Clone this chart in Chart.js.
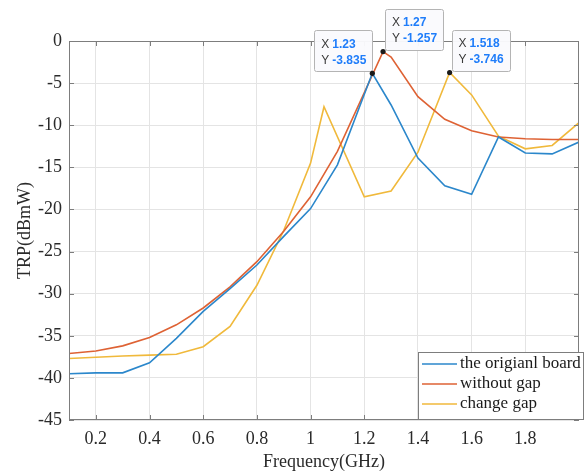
<!DOCTYPE html>
<html>
<head>
<meta charset="utf-8">
<script src="https://cdn.jsdelivr.net/npm/chart.js@4.4.0/dist/chart.umd.min.js"></script>
<style>
    body { margin: 0; background: #ffffff; }
    canvas { display: block; }
</style>
</head>
<body>
<canvas id="trpChart" width="584" height="476"></canvas>
<script>
//#####################################################################################//
//-- Data
var boardFreq = [0.1, 0.2, 0.3, 0.4, 0.5, 0.6, 0.7, 0.8, 0.9, 1.0, 1.1, 1.23, 1.3, 1.4, 1.5, 1.6, 1.7, 1.8, 1.9, 2.0];
var boardTrp = [-39.5, -39.4, -39.4, -38.2, -35.3, -32.1, -29.4, -26.6, -23.2, -19.9, -14.7, -3.835, -7.6, -13.9, -17.2, -18.2, -11.4, -13.3, -13.4, -12.0];

var noGapFreq = [0.1, 0.2, 0.3, 0.4, 0.5, 0.6, 0.7, 0.8, 0.9, 1.0, 1.1, 1.27, 1.3, 1.4, 1.5, 1.6, 1.7, 1.8, 1.9, 2.0];
var noGapTrp = [-37.1, -36.8, -36.2, -35.2, -33.7, -31.7, -29.2, -26.2, -22.6, -18.5, -13.1, -1.257, -1.9, -6.6, -9.3, -10.65, -11.4, -11.6, -11.7, -11.7];

var changeGapFreq = [0.1, 0.2, 0.3, 0.4, 0.5, 0.6, 0.7, 0.8, 0.9, 1.0, 1.05, 1.2, 1.3, 1.4, 1.518, 1.6, 1.7, 1.8, 1.9, 2.0];
var changeGapTrp = [-37.7, -37.55, -37.4, -37.3, -37.2, -36.3, -33.9, -29.0, -22.5, -14.5, -7.8, -18.5, -17.8, -13.2, -3.746, -6.4, -11.3, -12.8, -12.4, -9.7];

var seriesNames = ["the origianl board", "without gap", "change gap"];
var xTickValues = [0.2, 0.4, 0.6, 0.8, 1.0, 1.2, 1.4, 1.6, 1.8];
var yTickValues = [-45, -40, -35, -30, -25, -20, -15, -10, -5, 0];

//datatips: [series index, x, y, which side of the point the box sits]
var dataTips = [
    [0, 1.23, -3.835, "left"],
    [1, 1.27, -1.257, "right"],
    [2, 1.518, -3.746, "right"]
];

//#####################################################################################//
//-- Styling
var lineColours = ["#2b87cb", "#de6234", "#f0b93b"];
var axisColour = "#7d7d7d";
var serifFont = "'Liberation Serif', 'Times New Roman', serif";

var makePoints = function(xs, ys) {
    let pts = [];
    for (let i = 0; i < xs.length; i++) {
        pts.push({ x: xs[i], y: ys[i] });
    }
    return pts;
}

var makeDataset = function(idx, xs, ys) {
    return {
        label: seriesNames[idx],
        data: makePoints(xs, ys),
        borderColor: lineColours[idx],
        backgroundColor: lineColours[idx],
        borderWidth: 1.6,
        pointRadius: 0,
        tension: 0,
        fill: false
    };
}

//Box round the plot plus the little inward tick marks MATLAB draws on every side
var boxPlugin = {
    id: "boxPlugin",
    afterDatasetsDraw: function(chart) {
        let ctx = chart.ctx;
        let a = chart.chartArea;
        let xs = chart.scales.x;
        let ys = chart.scales.y;
        ctx.save();
        ctx.strokeStyle = axisColour;
        ctx.lineWidth = 1;
        ctx.strokeRect(a.left + 0.5, a.top + 0.5, a.right - a.left - 1, a.bottom - a.top - 1);
        ctx.beginPath();
        for (let i = 0; i < xTickValues.length; i++) {
            let px = Math.round(xs.getPixelForValue(xTickValues[i])) + 0.5;
            ctx.moveTo(px, a.bottom);
            ctx.lineTo(px, a.bottom - 5);
            ctx.moveTo(px, a.top);
            ctx.lineTo(px, a.top + 5);
        }
        for (let i = 0; i < yTickValues.length; i++) {
            let py = Math.round(ys.getPixelForValue(yTickValues[i])) + 0.5;
            ctx.moveTo(a.left, py);
            ctx.lineTo(a.left + 5, py);
            ctx.moveTo(a.right, py);
            ctx.lineTo(a.right - 5, py);
        }
        ctx.stroke();
        ctx.restore();
    },
    afterDraw: function(chart) {
        let ctx = chart.ctx;
        let xs = chart.scales.x;
        let ys = chart.scales.y;

        //datatips
        for (let i = 0; i < dataTips.length; i++) {
            let tip = dataTips[i];
            let px = xs.getPixelForValue(tip[1]);
            let py = ys.getPixelForValue(tip[2]);
            let w = 58;
            let h = 41;
            let left = tip[3] === "left" ? px - w : px + 2;
            let top = py - h - 2;
            ctx.save();
            ctx.fillStyle = "rgba(250,250,253,0.96)";
            ctx.strokeStyle = "#b4b4b4";
            ctx.lineWidth = 1;
            ctx.beginPath();
            ctx.roundRect(Math.round(left) + 0.5, Math.round(top) + 0.5, w, h, 2);
            ctx.fill();
            ctx.stroke();

            ctx.textBaseline = "middle";
            ctx.textAlign = "left";
            ctx.font = "12px 'Liberation Sans', Arial, sans-serif";
            ctx.fillStyle = "#3a3a3a";
            ctx.fillText("X", left + 7, top + 14);
            ctx.fillText("Y", left + 7, top + 30);
            ctx.font = "bold 12px 'Liberation Sans', Arial, sans-serif";
            ctx.fillStyle = "#1f7dfa";
            ctx.fillText(String(tip[1]), left + 18, top + 14);
            ctx.fillText(String(tip[2]), left + 18, top + 30);

            //marker on the point
            ctx.fillStyle = "#1a1a1a";
            ctx.beginPath();
            ctx.arc(px, py, 2.6, 0, Math.PI * 2);
            ctx.fill();
            ctx.restore();
        }

        //legend box in the lower right corner
        let lx = 418;
        let ly = 352;
        let lw = 165;
        let lh = 67;
        ctx.save();
        ctx.fillStyle = "#ffffff";
        ctx.strokeStyle = axisColour;
        ctx.lineWidth = 1;
        ctx.fillRect(lx, ly, lw, lh);
        ctx.strokeRect(lx + 0.5, ly + 0.5, lw, lh);
        ctx.font = "17px " + serifFont;
        ctx.textBaseline = "middle";
        ctx.textAlign = "left";
        for (let i = 0; i < seriesNames.length; i++) {
            let rowY = ly + 12 + i * 20;
            ctx.strokeStyle = lineColours[i];
            ctx.lineWidth = 1.6;
            ctx.beginPath();
            ctx.moveTo(lx + 4, rowY);
            ctx.lineTo(lx + 39, rowY);
            ctx.stroke();
            ctx.fillStyle = "#1a1a1a";
            ctx.fillText(seriesNames[i], lx + 42, rowY);
        }
        ctx.restore();
    }
};

var chart = new Chart(document.getElementById("trpChart"), {
    type: "line",
    data: {
        datasets: [
            makeDataset(0, boardFreq, boardTrp),
            makeDataset(1, noGapFreq, noGapTrp),
            makeDataset(2, changeGapFreq, changeGapTrp)
        ]
    },
    options: {
        responsive: false,
        animation: false,
        devicePixelRatio: 1,
        layout: { padding: { top: 41, right: 5, left: 0, bottom: 0 } },
        plugins: {
            legend: { display: false },
            tooltip: { enabled: false }
        },
        scales: {
            x: {
                type: "linear",
                min: 0.1,
                max: 2.0,
                afterBuildTicks: function(scale) {
                    scale.ticks = xTickValues.map(function(v) { return { value: v }; });
                },
                afterFit: function(scale) {
                    scale.height = 56;
                },
                grid: { color: "#e4e4e4", drawTicks: false },
                border: { display: false },
                ticks: {
                    padding: 8,
                    color: "#2a2a2a",
                    font: { family: serifFont, size: 18 },
                    maxRotation: 0,
                    autoSkip: false,
                    callback: function(v) { return String(Math.round(v * 10) / 10); }
                },
                title: {
                    display: true,
                    text: "Frequency(GHz)",
                    color: "#2a2a2a",
                    font: { family: serifFont, size: 18 },
                    padding: { top: 0, bottom: 3 }
                }
            },
            y: {
                min: -45,
                max: 0,
                afterBuildTicks: function(scale) {
                    scale.ticks = yTickValues.map(function(v) { return { value: v }; });
                },
                afterFit: function(scale) {
                    scale.width = 69;
                },
                grid: { color: "#e4e4e4", drawTicks: false },
                border: { display: false },
                ticks: {
                    padding: 7,
                    color: "#2a2a2a",
                    font: { family: serifFont, size: 18 },
                    autoSkip: false
                },
                title: {
                    display: true,
                    text: "TRP(dBmW)",
                    color: "#2a2a2a",
                    font: { family: serifFont, size: 18 },
                    padding: { top: 14, bottom: 0 }
                }
            }
        }
    },
    plugins: [boxPlugin]
});
</script>
</body>
</html>
